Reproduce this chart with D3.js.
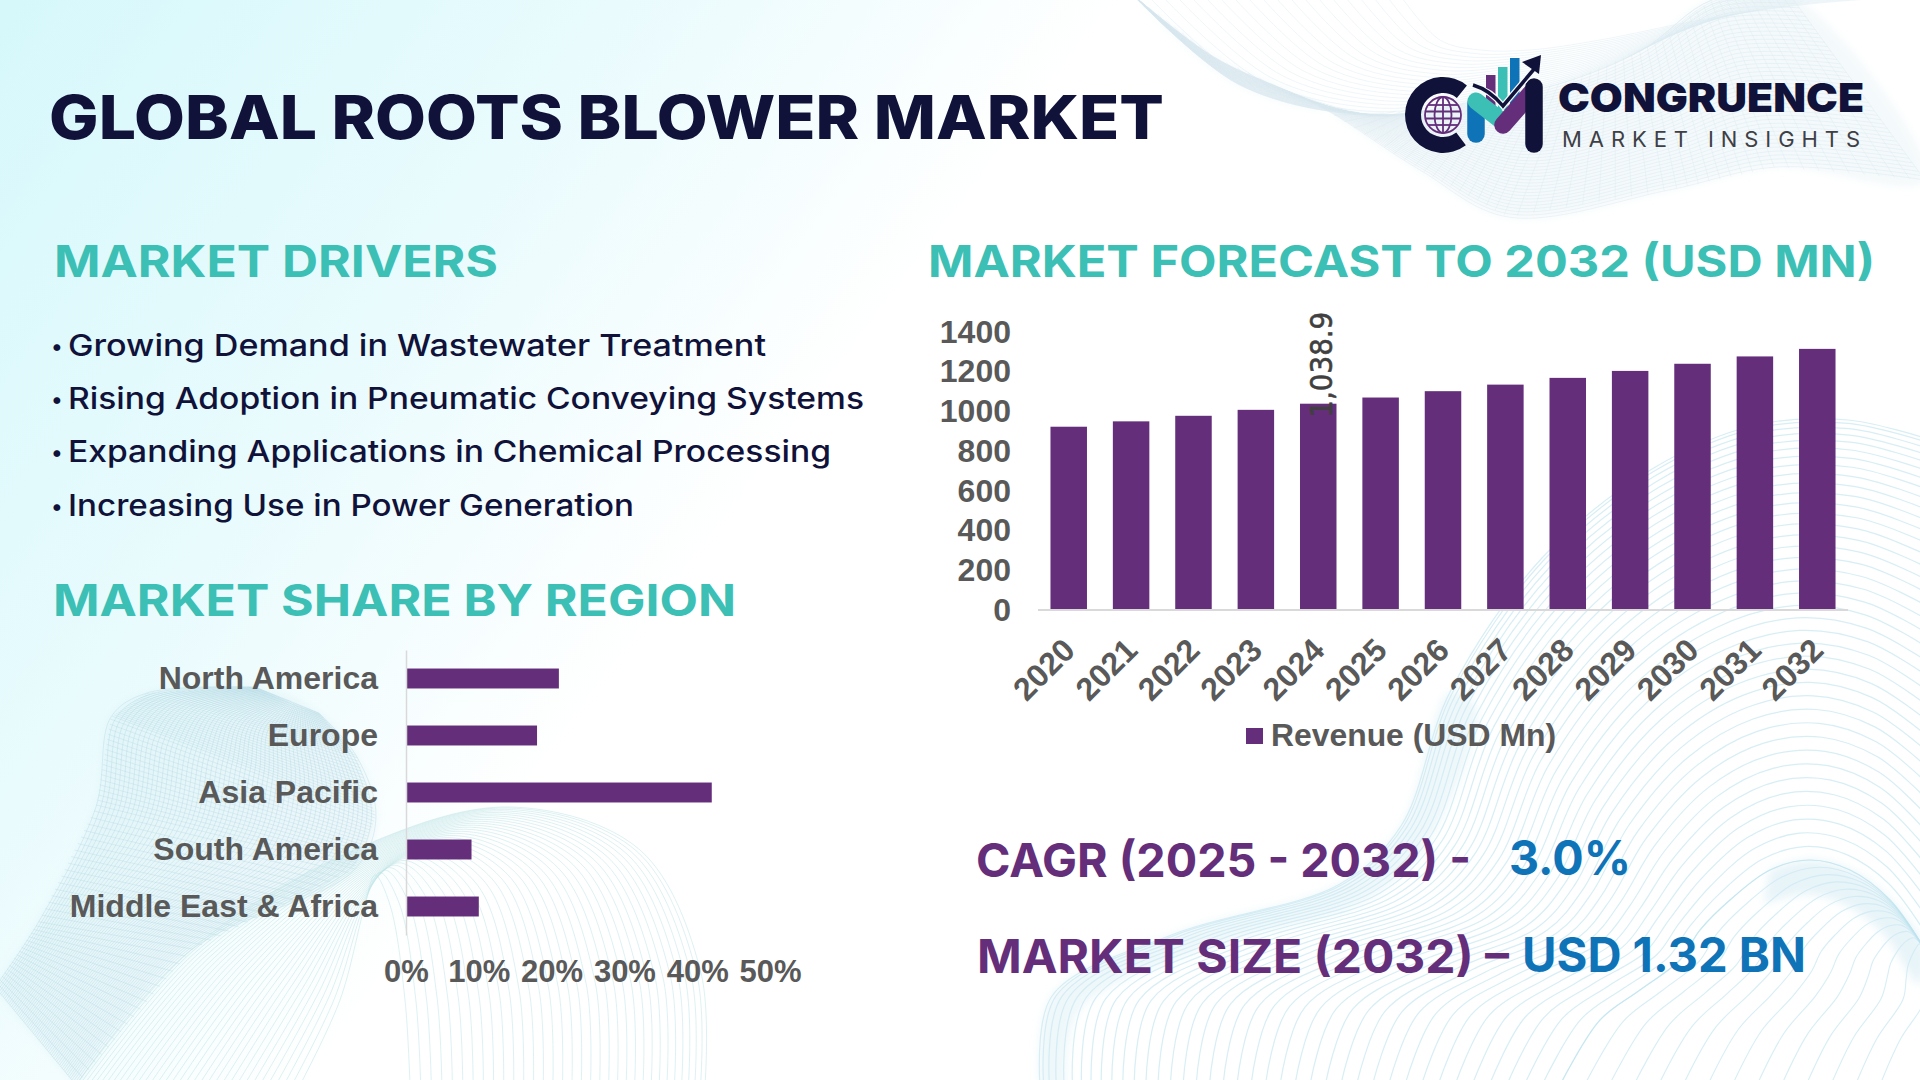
<!DOCTYPE html>
<html>
<head>
<meta charset="utf-8">
<script src="https://cdn.jsdelivr.net/npm/d3@7"></script>
<style>
	html, body { margin: 0; padding: 0; background: #fff; overflow: hidden; }
	svg { display: block; }
	.heading { font-family: Inter; font-weight: 700; fill: #3cbfb4; }
	.driver { font-family: Inter; font-weight: 500; fill: #10123a; }
	.chart-text, .tick text { font-family: "Liberation Sans"; font-weight: 700; fill: #595959; }
	.stat { font-family: Inter; font-weight: 700; }
</style>
</head>
<body>
<script>
// Forecast chart values
var years = ['2020', '2021', '2022', '2023', '2024', '2025', '2026', '2027', '2028', '2029', '2030', '2031', '2032'];
var revenue = [923, 950, 978, 1008, 1038.9, 1070, 1102, 1135, 1169, 1204, 1240, 1277, 1315];
var revenueTicks = [0, 200, 400, 600, 800, 1000, 1200, 1400];

// Region chart values
var regions = ['North America', 'Europe', 'Asia Pacific', 'South America', 'Middle East & Africa'];
var regionShare = [21, 18, 42, 9, 10];
var shareTicks = [0, 10, 20, 30, 40, 50];

// Texts
var drivers = [
	'Growing Demand in Wastewater Treatment',
	'Rising Adoption in Pneumatic Conveying Systems',
	'Expanding Applications in Chemical Processing',
	'Increasing Use in Power Generation'
];
var driverWidths = [698, 796, 763, 566];

var purple = '#642e7b', navy = '#10123a', teal = '#3cbfb4', blue = '#0f73b8';

var svg = d3.select('body').append('svg').attr('width', 1920).attr('height', 1080);

// Background wash
var defs = svg.append('defs');
var wash = defs.append('linearGradient').attr('id', 'wash').attr('gradientUnits', 'userSpaceOnUse')
	.attr('x1', 0).attr('y1', 0).attr('x2', 720).attr('y2', 540);
wash.append('stop').attr('offset', 0).attr('stop-color', '#d6f8fb');
wash.append('stop').attr('offset', 0.55).attr('stop-color', '#e9fbfd');
wash.append('stop').attr('offset', 1).attr('stop-color', '#ffffff');
svg.append('rect').attr('width', 1920).attr('height', 1080).attr('fill', 'url(#wash)');

defs.append('filter').attr('id', 'soft').attr('x', '-10%').attr('y', '-10%').attr('width', '120%').attr('height', '120%')
	.append('feGaussianBlur').attr('stdDeviation', 5);
defs.append('filter').attr('id', 'hair')
	.append('feGaussianBlur').attr('stdDeviation', 0.5);

// Decorative line ribbons, one curve per step between two edges
var curve = d3.line().curve(d3.curveCatmullRom);
function lerp(p, q, t) {
	return [p[0] + (q[0] - p[0]) * t, p[1] + (q[1] - p[1]) * t];
}
function ribbon(a, b, n, color, opacity, width, power) {
	var g = svg.append('g').attr('fill', 'none').attr('stroke', color).attr('filter', 'url(#hair)')
		.attr('stroke-opacity', opacity).attr('stroke-width', width);
	d3.range(n).forEach(function(i) {
		var t = Math.pow(i / (n - 1), power || 1);
		g.append('path').attr('d', curve(a.map(function(p, k) { return lerp(p, b[k], t); })));
	});
}
// Lines across a ribbon, for the mesh look
function cross(a, b, n, color, opacity, width) {
	var g = svg.append('g').attr('fill', 'none').attr('stroke', color).attr('filter', 'url(#hair)')
		.attr('stroke-opacity', opacity).attr('stroke-width', width);
	d3.range(n).forEach(function(j) {
		var s = j / (n - 1) * (a.length - 1.001), k = Math.floor(s), f = s - k;
		g.append('path').attr('d', curve([lerp(a[k], a[k + 1], f), lerp(b[k], b[k + 1], f)]));
	});
}
function tint(a, b, color, opacity) {
	svg.append('path').attr('d', curve(a.concat(b.slice().reverse())) + 'Z').attr('filter', 'url(#soft)')
		.attr('fill', color).attr('fill-opacity', opacity);
}

// top right
var trA = [[1133, -5], [1214, 57], [1321, 107], [1420, 170], [1508, 217], [1669, 190], [1776, 167], [1925, 180]];
var trB = [[1400, -5], [1440, 40], [1480, 50], [1530, 50], [1600, 40], [1700, 20], [1800, 5], [1925, -5]];
var trC = [[1133, -5], [1240, 85], [1369, 115], [1482, 100], [1562, 83], [1642, 50], [1712, 0], [1790, -5]];
tint(trA, trC, '#eaf3f7', 0.5);
ribbon(trA, trC, 44, '#d8e7ee', 0.4, 1, 1);
cross(trA, trC, 70, '#d8e7ee', 0.35, 1);
ribbon(trC, trB, 20, '#dcebf1', 0.45, 1, 1);

// bottom left
var blA = [[-5, 987], [38, 923], [96, 807], [111, 717], [147, 693], [255, 687]];
var blB = [[76, 1085], [191, 950], [354, 870], [376, 817], [357, 757], [319, 713]];
tint(blA, blB, '#c6e3ec', 0.25);
ribbon(blA, blB, 60, '#a4d0de', 0.32, 1, 1);
cross(blA, blB, 90, '#a4d0de', 0.28, 1);

// bottom centre arches
var bcA = [[76, 1085], [191, 950], [354, 850], [510, 807], [640, 850], [701, 973], [705, 1085]];
var bcB = [[300, 1085], [340, 1000], [365, 905], [375, 875], [390, 905], [405, 1000], [410, 1085]];
ribbon(bcA, bcB, 34, '#bde3e6', 0.5, 1, 1.2);

// bottom right
var brA = [[1040, 1085], [1052, 996], [1174, 934], [1340, 884], [1401, 826], [1450, 692], [1542, 558], [1652, 469], [1756, 425], [1848, 420], [1925, 438]];
var brB = [[1560, 1085], [1600, 1020], [1640, 990], [1680, 960], [1700, 930], [1730, 900], [1770, 870], [1810, 860], [1850, 870], [1890, 900], [1925, 950]];
var brC = [[1880, 1085], [1900, 1040], [1925, 1000], [1925, 980], [1925, 970], [1925, 965], [1925, 960], [1925, 955], [1925, 950], [1925, 950], [1925, 950]];
ribbon(brA, brB, 40, '#b6e0ec', 0.55, 1.2, 1.35);
ribbon(brB, brC, 14, '#b6e0ec', 0.55, 1.1, 1);
tint(brA.slice(0, 6), brA.slice(0, 6).map(function(p) { return [p[0] + 26, p[1] + 16]; }), '#cfe9f2', 0.35);
tint(brB.slice(6), brB.slice(6).map(function(p) { return [p[0] - 6, p[1] + 34]; }), '#cfe9f2', 0.5);

// Set a text to a fixed width, the fonts here are not the original ones
function label(cls, txt, x, y, size, width, fill) {
	var t = svg.append('text').attr('class', cls).attr('x', x).attr('y', y)
		.attr('font-size', size).text(txt);
	if (width) t.attr('textLength', width).attr('lengthAdjust', 'spacingAndGlyphs');
	if (fill) t.style('fill', fill);
	return t;
}

// Title and section headings
label('heading', 'GLOBAL ROOTS BLOWER MARKET', 49, 139, 61, 1115, navy).style('font-weight', 800);
label('heading', 'MARKET DRIVERS', 54, 277, 44, 444);
label('heading', 'MARKET SHARE BY REGION', 53, 616, 44, 683);
label('heading', 'MARKET FORECAST TO 2032 (USD MN)', 928, 277, 44, 947);

// Drivers list
drivers.forEach(function(d, i) {
	var base = 355.5 + i * 53.4;
	svg.append('text').attr('class', 'driver').attr('x', 51).attr('y', base - 2)
		.attr('font-size', 22).text('•');
	label('driver', d, 68, base, 30, driverWidths[i]);
});

// Forecast chart
var x = d3.scaleBand().domain(years).range([1038, 1848]).paddingInner(0.415).paddingOuter(0.2);
var y = d3.scaleLinear().domain([0, 1400]).range([610, 332]);

svg.append('g').selectAll('rect').data(revenue).enter().append('rect')
	.attr('x', function(d, i) { return x(years[i]); })
	.attr('y', function(d) { return y(d); })
	.attr('width', x.bandwidth())
	.attr('height', function(d) { return y(0) - y(d); })
	.attr('fill', purple);

svg.append('line').attr('x1', 1038).attr('x2', 1848).attr('y1', y(0)).attr('y2', y(0))
	.attr('stroke', '#d9d9d9').attr('stroke-width', 2);

var yAxis = svg.append('g').attr('transform', 'translate(1038,0)')
	.call(d3.axisLeft(y).tickValues(revenueTicks).tickSize(0).tickPadding(27).tickFormat(d3.format('d')));
yAxis.select('.domain').remove();
yAxis.selectAll('text').attr('font-size', 32);

var xAxis = svg.append('g').attr('transform', 'translate(0,610)')
	.call(d3.axisBottom(x).tickSize(0));
xAxis.select('.domain').remove();
xAxis.selectAll('text').attr('font-size', 32).attr('text-anchor', 'end')
	.attr('dy', 0).attr('transform', 'translate(6,40) rotate(-45)');

// Value label on 2024 only, stands upright over the bar
var labelX = x('2024') + x.bandwidth() / 2 + 14;
var labelY = y(revenue[4]) + 14;
svg.append('text').attr('class', 'chart-text')
	.attr('transform', 'translate(' + labelX + ',' + labelY + ') rotate(-90)')
	.attr('font-size', 31).style('font-family', '"DejaVu Sans"').style('font-weight', 400).style('fill', '#404040')
	.attr('stroke', '#404040').attr('stroke-width', 0.6)
	.attr('textLength', 106).attr('lengthAdjust', 'spacingAndGlyphs')
	.text('1,038.9');

// Legend
svg.append('rect').attr('x', 1246).attr('y', 728).attr('width', 17).attr('height', 16).attr('fill', purple);
label('chart-text', 'Revenue (USD Mn)', 1271, 746, 32, 285);

// Region chart
var rx = d3.scaleLinear().domain([0, 50]).range([406, 770]);
var ry = d3.scaleBand().domain(regions).range([650, 935]).paddingInner(0.65).paddingOuter(0.325);

svg.append('g').selectAll('rect').data(regionShare).enter().append('rect')
	.attr('x', rx(0))
	.attr('y', function(d, i) { return ry(regions[i]); })
	.attr('width', function(d) { return rx(d) - rx(0); })
	.attr('height', ry.bandwidth())
	.attr('fill', purple);

var ryAxis = svg.append('g').attr('transform', 'translate(406,0)')
	.call(d3.axisLeft(ry).tickSize(0).tickPadding(28));
ryAxis.select('.domain').attr('stroke', '#d9d9d9').attr('stroke-width', 1.5);
ryAxis.selectAll('text').attr('font-size', 32);

var rxAxis = svg.append('g').attr('transform', 'translate(0,950)')
	.call(d3.axisBottom(rx).tickValues(shareTicks).tickSize(0).tickPadding(10)
		.tickFormat(function(d) { return d + '%'; }));
rxAxis.select('.domain').remove();
rxAxis.selectAll('text').attr('font-size', 31);

// Key figures
label('stat', 'CAGR (2025 - 2032) -', 976, 877, 47, 495, purple);
label('stat', '3.0%', 1509, 875, 48, 122, blue);
label('stat', 'MARKET SIZE (2032) –', 977, 973, 47, 532, purple);
label('stat', 'USD 1.32 BN', 1522, 972, 48, 284, blue);

// Logo
var logo = svg.append('g');
var arc = d3.arc().innerRadius(22).outerRadius(38);
logo.append('path').attr('transform', 'translate(1443,115)').attr('fill', navy)
	.attr('d', arc({ startAngle: 143 * Math.PI / 180, endAngle: 399 * Math.PI / 180 }));

// globe
var globe = logo.append('g').attr('transform', 'translate(1443,115)').attr('fill', 'none')
	.attr('stroke', purple).attr('stroke-width', 1.8);
globe.append('circle').attr('r', 18);
globe.append('ellipse').attr('rx', 8.5).attr('ry', 18);
globe.append('line').attr('y1', -18).attr('y2', 18);
[-10, -3.5, 3.5, 10].forEach(function(d) {
	var half = Math.sqrt(18 * 18 - d * d);
	globe.append('line').attr('x1', -half).attr('x2', half).attr('y1', d).attr('y2', d);
});

// rising bars behind the M
[[1486, 75, purple], [1498, 67, teal], [1510, 58, blue]].forEach(function(b) {
	logo.append('rect').attr('x', b[0]).attr('y', b[1]).attr('width', 9.5).attr('height', 110 - b[1]).attr('fill', b[2]);
});

// M strokes
function stroke(x1, y1, x2, y2, color, w) {
	logo.append('line').attr('x1', x1).attr('y1', y1).attr('x2', x2).attr('y2', y2)
		.attr('stroke', color).attr('stroke-width', w).attr('stroke-linecap', 'round');
}
stroke(1476, 104, 1476, 134, blue, 17.5);
stroke(1476, 101, 1503, 122, teal, 17);
stroke(1503, 125, 1531, 93, purple, 17.5);
stroke(1534, 87, 1534, 144, navy, 17.5);

// arrow, with a light edge where it passes over the bars
logo.append('path').attr('fill', 'none').attr('stroke', '#f6fafb').attr('stroke-width', 6)
	.attr('d', 'M1476,87 Q1490,90 1503,106 L1535,68');
logo.append('path').attr('fill', 'none').attr('stroke', navy).attr('stroke-width', 3.5)
	.attr('d', 'M1473,85 Q1490,90 1503,106 L1535,68');
logo.append('path').attr('fill', navy).attr('d', 'M1541,55 L1522,62 L1539,74 Z');

label('heading', 'CONGRUENCE', 1558, 112, 40, 306, navy).style('font-weight', 900);
label('heading', 'MARKET INSIGHTS', 1562, 147, 22, 298, '#3f3f46').style('font-weight', 400)
	.attr('lengthAdjust', 'spacing');
</script>
</body>
</html>
